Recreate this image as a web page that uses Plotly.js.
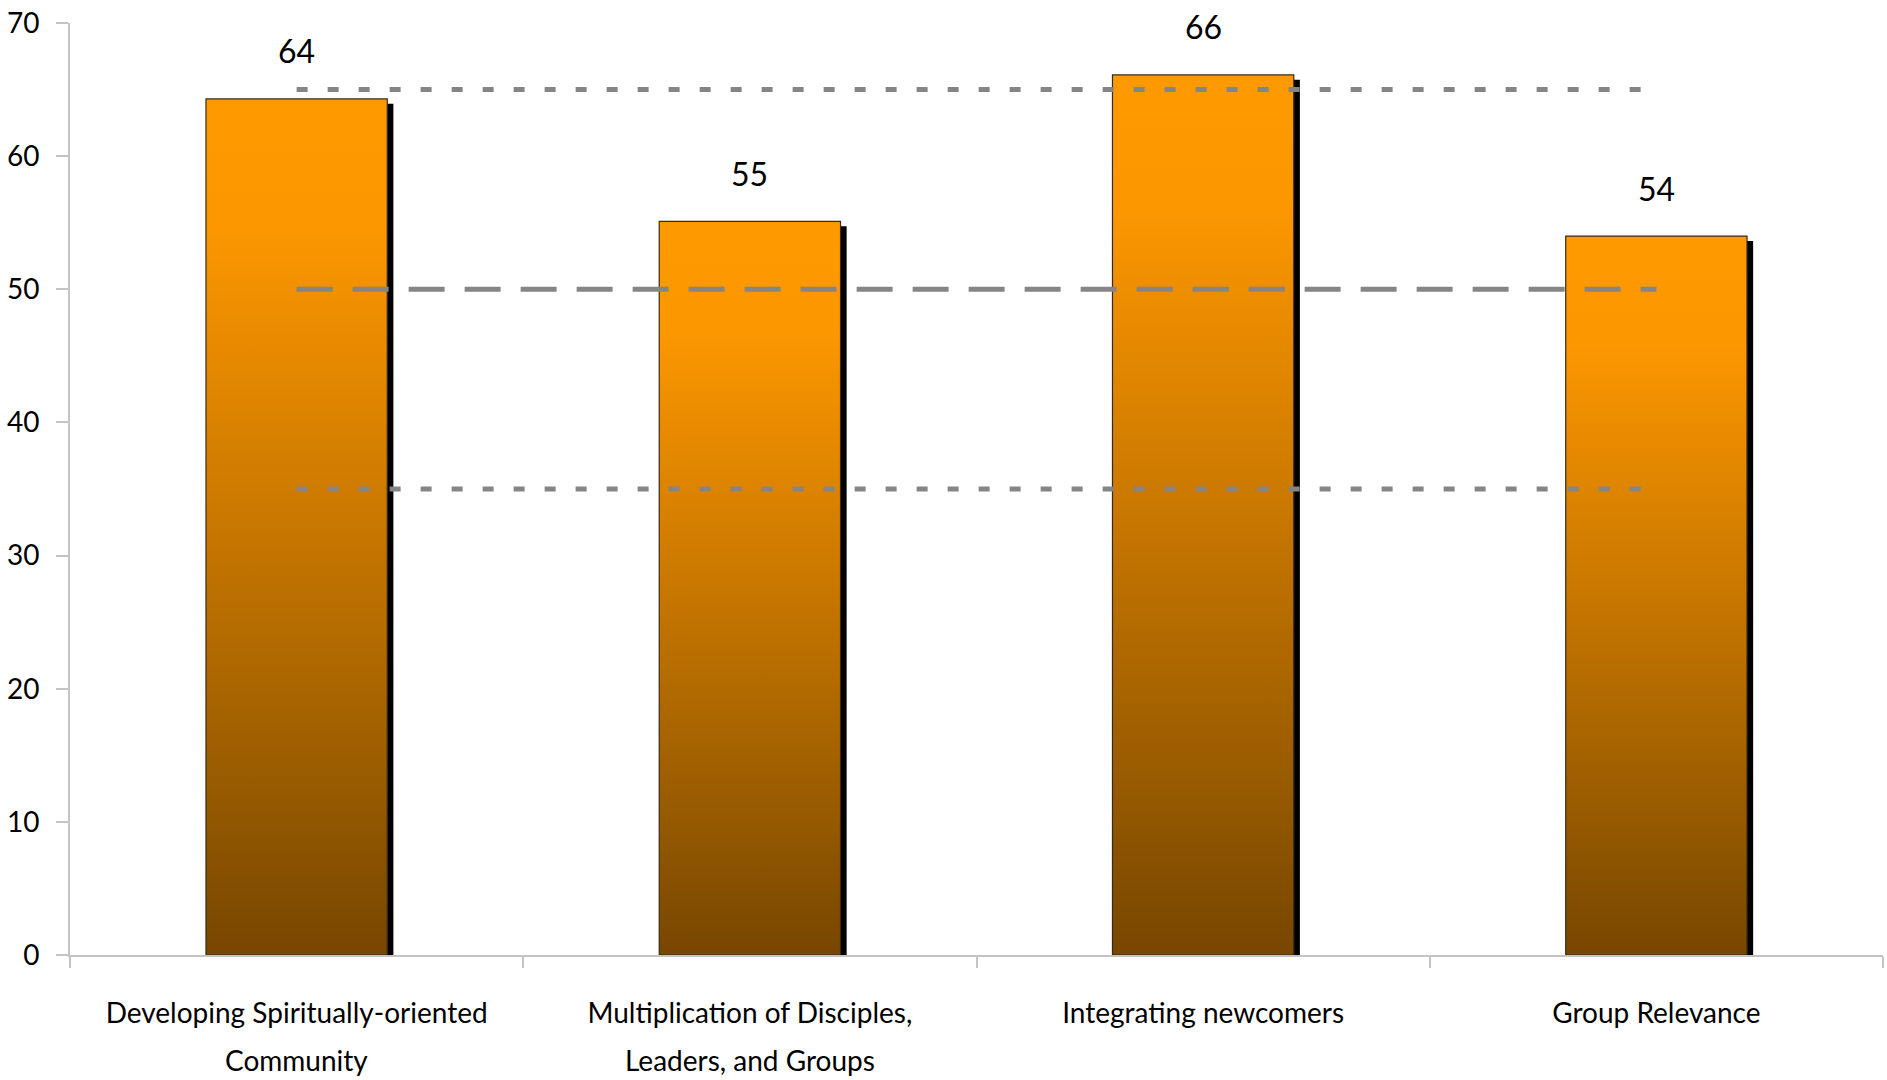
<!DOCTYPE html>
<html>
<head>
<meta charset="utf-8">
<script src="https://cdn.plot.ly/plotly-3.0.1.min.js"></script>
<style>
  html, body { margin: 0; padding: 0; background: #ffffff; }
  #chart { width: 1887px; height: 1080px; }
</style>
</head>
<body>
<div id="chart"></div>
<script>
// ---- Data ----
const categories = [
  "Developing Spiritually-oriented Community",
  "Multiplication of Disciples, Leaders, and Groups",
  "Integrating newcomers",
  "Group Relevance"
];
const labelLine1 = [
  "Developing Spiritually-oriented",
  "Multiplication of Disciples,",
  "Integrating newcomers",
  "Group Relevance"
];
const labelLine2 = ["Community", "Leaders, and Groups", "", ""];
const scores = [64.3, 55.1, 66.1, 54.0];
const upperBand = [65, 65, 65, 65];
const midLine = [50, 50, 50, 50];
const lowerBand = [35, 35, 35, 35];
const yTicks = [0, 10, 20, 30, 40, 50, 60, 70];

// ---- Style ----
const FONT = "Lato, 'Open Sans', sans-serif";
const AXIS_GREY = "#c4c4c4";
const LINE_GREY = "#858585";
const BAR_WIDTH = 0.4;
const SHADOW_DX = 0.0135;   // category units (~6px)
const SHADOW_DY = 0.37;     // value units (~5px)

const shadowTrace = {
  type: "bar",
  x: categories,
  y: scores.map(v => v - SHADOW_DY),
  width: BAR_WIDTH,
  offset: -BAR_WIDTH / 2 + SHADOW_DX,
  marker: { color: "#000000", line: { width: 0 } },
  hoverinfo: "skip",
  showlegend: false
};

const barTrace = {
  type: "bar",
  x: categories,
  y: scores,
  width: BAR_WIDTH,
  offset: -BAR_WIDTH / 2,
  marker: { color: "#f08f00", line: { color: "#3a2a14", width: 1.2 } },
  showlegend: false
};

function refLine(vals, dash) {
  return {
    type: "scatter",
    mode: "lines",
    x: categories,
    y: vals,
    line: { color: LINE_GREY, width: 5, dash: dash },
    hoverinfo: "skip",
    showlegend: false
  };
}

const annotations = [];
categories.forEach((c, i) => {
  annotations.push({
    x: c, y: scores[i], xref: "x", yref: "y",
    text: String(Math.round(scores[i])),
    showarrow: false, yanchor: "middle", yshift: 48,
    font: { family: FONT, size: 32, color: "#000000" }
  });
  if (labelLine2[i]) {
    annotations.push({
      x: c, y: 0, xref: "x", yref: "paper",
      text: labelLine2[i],
      showarrow: false, yanchor: "middle", yshift: -105,
      font: { family: FONT, size: 28, color: "#000000" }
    });
  }
});

const layout = {
  width: 1887,
  height: 1080,
  margin: { l: 70, r: 4, t: 23, b: 125, pad: 0 },
  paper_bgcolor: "#ffffff",
  plot_bgcolor: "#ffffff",
  barmode: "overlay",
  showlegend: false,
  font: { family: FONT, color: "#000000" },
  xaxis: {
    type: "category",
    range: [-0.5, 3.5],
    tickmode: "array",
    tickvals: categories,
    ticktext: labelLine1,
    tickson: "boundaries",
    ticks: "outside",
    ticklen: 11,
    tickwidth: 2,
    tickcolor: AXIS_GREY,
    showline: true,
    linecolor: AXIS_GREY,
    linewidth: 2,
    showgrid: false,
    zeroline: false,
    tickfont: { family: FONT, size: 28, color: "#000000" },
    ticklabelstandoff: 32,
    fixedrange: true
  },
  yaxis: {
    range: [0, 70],
    tickmode: "array",
    tickvals: yTicks,
    ticktext: yTicks.map(String),
    ticks: "outside",
    ticklen: 12,
    tickwidth: 2,
    tickcolor: AXIS_GREY,
    showline: true,
    linecolor: AXIS_GREY,
    linewidth: 2,
    showgrid: false,
    zeroline: false,
    tickfont: { family: FONT, size: 28, color: "#000000" },
    ticklabelstandoff: 11,
    fixedrange: true
  },
  annotations: annotations
};

const data = [
  shadowTrace,
  barTrace,
  refLine(upperBand, "11px,20px"),
  refLine(lowerBand, "11px,20px"),
  refLine(midLine, "36px,20px")
];

function applyGradient(gd) {
  const svg = gd.querySelector("svg.main-svg");
  if (!svg) return;
  const NS = "http://www.w3.org/2000/svg";
  let defs = svg.querySelector("defs");
  if (!defs) { defs = document.createElementNS(NS, "defs"); svg.insertBefore(defs, svg.firstChild); }
  if (!svg.querySelector("#barGradient")) {
    const grad = document.createElementNS(NS, "linearGradient");
    grad.setAttribute("id", "barGradient");
    grad.setAttribute("x1", "0"); grad.setAttribute("y1", "0");
    grad.setAttribute("x2", "0"); grad.setAttribute("y2", "1");
    const stops = [[0, "#ff9900"], [0.15, "#fc9700"], [0.5, "#c87700"], [0.8, "#985b00"], [1, "#774600"]];
    stops.forEach(([o, c]) => {
      const s = document.createElementNS(NS, "stop");
      s.setAttribute("offset", o);
      s.setAttribute("stop-color", c);
      grad.appendChild(s);
    });
    defs.appendChild(grad);
  }
  const traces = gd.querySelectorAll(".barlayer .trace");
  if (traces.length > 1) {
    traces[1].querySelectorAll(".point path").forEach(p => {
      p.style.fill = "url(#barGradient)";
    });
  }
}

Plotly.newPlot("chart", data, layout, { displayModeBar: false, staticPlot: true })
  .then(gd => applyGradient(gd));
</script>
</body>
</html>
